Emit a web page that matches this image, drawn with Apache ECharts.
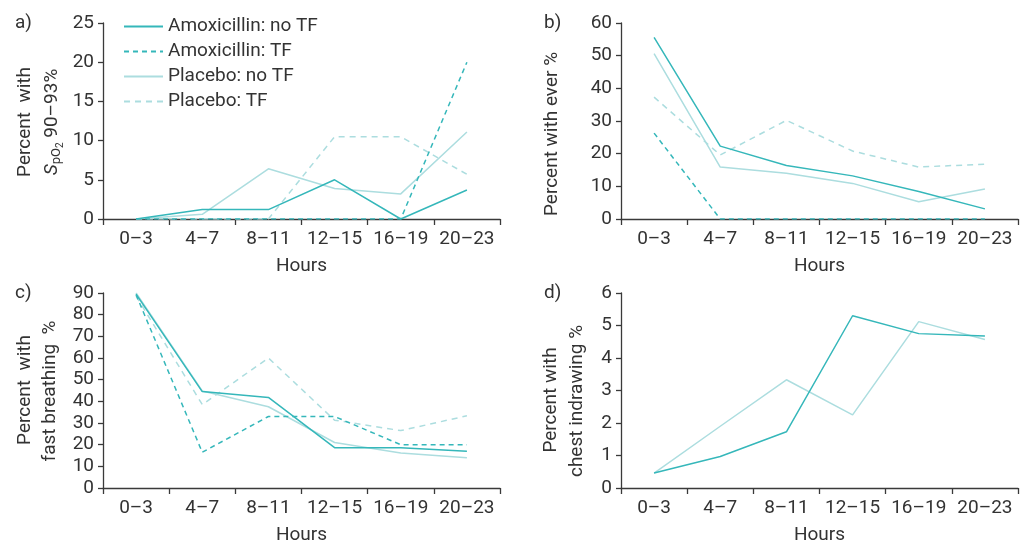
<!DOCTYPE html>
<html>
<head>
<meta charset="utf-8">
<script src="https://cdn.jsdelivr.net/npm/echarts@6/dist/echarts.min.js"></script>
<style>
  html, body { margin: 0; padding: 0; background: #fff; }
  #main { width: 1025px; height: 546px; }
</style>
</head>
<body>
<div id="main"></div>
<script>
'use strict';

// categories
const hours = ['0–3', '4–7', '8–11', '12–15', '16–19', '20–23'];
const seriesNames = ['Amoxicillin: no TF', 'Amoxicillin: TF', 'Placebo: no TF', 'Placebo: TF'];

// a) SpO2 90-93%
const spo2AmoxNoTF = [0, 1.2, 1.2, 5.0, 0, 3.7];
const spo2AmoxTF = [0, 0, 0, 0, 0, 20];
const spo2PlacNoTF = [0, 0.6, 6.4, 3.9, 3.2, 11.1];
const spo2PlacTF = [0, 0, 0, 10.5, 10.5, 5.7];

// b) ever
const everAmoxNoTF = [55.6, 22.3, 16.4, 13.2, 8.4, 3.1];
const everAmoxTF = [26.3, 0, 0, 0, 0, 0];
const everPlacNoTF = [50.6, 15.9, 14.0, 10.9, 5.3, 9.2];
const everPlacTF = [37.3, 19.6, 30.2, 20.8, 15.9, 16.8];

// c) fast breathing
const fastAmoxNoTF = [89.5, 44.5, 41.8, 18.6, 18.6, 17.0];
const fastAmoxTF = [89.2, 16.5, 33.0, 33.0, 20.0, 20.0];
const fastPlacNoTF = [90, 44.8, 37.5, 21.0, 16.2, 14.0];
const fastPlacTF = [88.6, 38.5, 60.0, 31.3, 26.5, 33.3];

// d) chest indrawing
const chestAmoxNoTF = [0.46, 0.97, 1.73, 5.3, 4.75, 4.68];
const chestPlacNoTF = [0.46, 1.9, 3.33, 2.25, 5.12, 4.57];

// y axis ranges
const yMax = [25, 60, 90, 6];
const yStep = [5, 10, 10, 1];

const DARK = '#35b7ba';
const LIGHT = '#acdddf';
const TEXT = '#333333';
const FONT = 'Roboto';
const FS = 19;

var myChart = echarts.init(document.getElementById('main'));

const grids = [
    { left: 103, top: 23, width: 397, height: 196 },
    { left: 621, top: 23, width: 397, height: 196 },
    { left: 103, top: 293, width: 397, height: 196 },
    { left: 621, top: 293, width: 397, height: 196 }
];

const axisLine = { show: true, lineStyle: { color: '#3a3a3a', width: 1.3 } };

const xAxes = grids.map((g, i) => ({
    type: 'category',
    gridIndex: i,
    data: hours,
    boundaryGap: true,
    name: 'Hours',
    nameLocation: 'middle',
    nameGap: 38,
    nameTextStyle: { color: TEXT, fontSize: FS, fontFamily: FONT },
    axisLine: axisLine,
    axisTick: { show: true, length: 6, lineStyle: { color: '#3a3a3a', width: 1.3 } },
    axisLabel: { color: TEXT, fontSize: FS, fontFamily: FONT, margin: 11, interval: 0, hideOverlap: false },
    splitLine: { show: false }
}));

const yAxes = grids.map((g, i) => ({
    type: 'value',
    gridIndex: i,
    min: 0,
    max: yMax[i],
    interval: yStep[i],
    axisLine: axisLine,
    axisTick: { show: true, length: 5, lineStyle: { color: '#3a3a3a', width: 1.3 } },
    axisLabel: { color: TEXT, fontSize: FS, fontFamily: FONT, margin: 9 },
    splitLine: { show: false }
}));

function line(name, data, idx, color, dashed) {
    return {
        name: name,
        type: 'line',
        xAxisIndex: idx,
        yAxisIndex: idx,
        data: data,
        symbol: 'none',
        silent: true,
        lineStyle: {
            color: color,
            width: 1.5,
            type: dashed ? (color === DARK ? [5, 4] : [6, 5]) : 'solid'
        },
        itemStyle: { color: color }
    };
}

const panels = [
    [spo2AmoxNoTF, spo2AmoxTF, spo2PlacNoTF, spo2PlacTF],
    [everAmoxNoTF, everAmoxTF, everPlacNoTF, everPlacTF],
    [fastAmoxNoTF, fastAmoxTF, fastPlacNoTF, fastPlacTF],
    [chestAmoxNoTF, null, chestPlacNoTF, null]
];

const series = [];
panels.forEach((p, i) => {
    // light lines drawn first, dark on top
    if (p[2]) series.push(line(seriesNames[2], p[2], i, LIGHT, false));
    if (p[3]) series.push(line(seriesNames[3], p[3], i, LIGHT, true));
    if (p[0]) series.push(line(seriesNames[0], p[0], i, DARK, false));
    if (p[1]) series.push(line(seriesNames[1], p[1], i, DARK, true));
});

function label(text, x, y, rotate, rich) {
    const el = {
        type: 'text',
        x: x,
        y: y,
        rotation: rotate ? Math.PI / 2 : 0,
        style: {
            text: text,
            fill: TEXT,
            fontSize: FS,
            fontFamily: FONT,
            align: rotate ? 'center' : 'left',
            verticalAlign: 'middle'
        }
    };
    if (rich) el.style.rich = rich;
    return el;
}

const subRich = {
    it: { fontStyle: 'italic', fontSize: FS, fontFamily: FONT, fill: TEXT },
    s1: { fontSize: 13, fontFamily: FONT, fill: TEXT, padding: [10, 0, 0, 0] },
    s2: { fontSize: 10, fontFamily: FONT, fill: TEXT, padding: [17, 0, 0, 0] },
    n: { fontSize: FS, fontFamily: FONT, fill: TEXT }
};

var option = {
    backgroundColor: '#fff',
    animation: false,
    grid: grids,
    xAxis: xAxes,
    yAxis: yAxes,
    legend: {
        data: seriesNames,
        orient: 'vertical',
        left: 118,
        top: 11,
        itemWidth: 39,
        itemHeight: 14,
        itemGap: 4,
        selectedMode: false,
        itemStyle: { opacity: 0 },
        textStyle: { color: TEXT, fontSize: FS, fontFamily: FONT, lineHeight: 21, padding: [0, 0, 0, 0] }
    },
    graphic: [
        label('a)', 15, 23, false),
        label('b)', 544, 23, false),
        label('c)', 15, 293, false),
        label('d)', 544, 293, false),
        label('Percent  with', 25, 122, true),
        label('{it|S}{s1|pO}{s2|2}{n| 90–93%}', 52, 122, true, subRich),
        label('Percent with ever %', 552, 134, true),
        label('Percent  with', 25, 390, true),
        label('fast breathing  %', 50, 391, true),
        label('Percent with', 551, 400, true),
        label('chest indrawing %', 577, 401, true)
    ],
    series: series
};

myChart.setOption(option);
</script>
</body>
</html>
